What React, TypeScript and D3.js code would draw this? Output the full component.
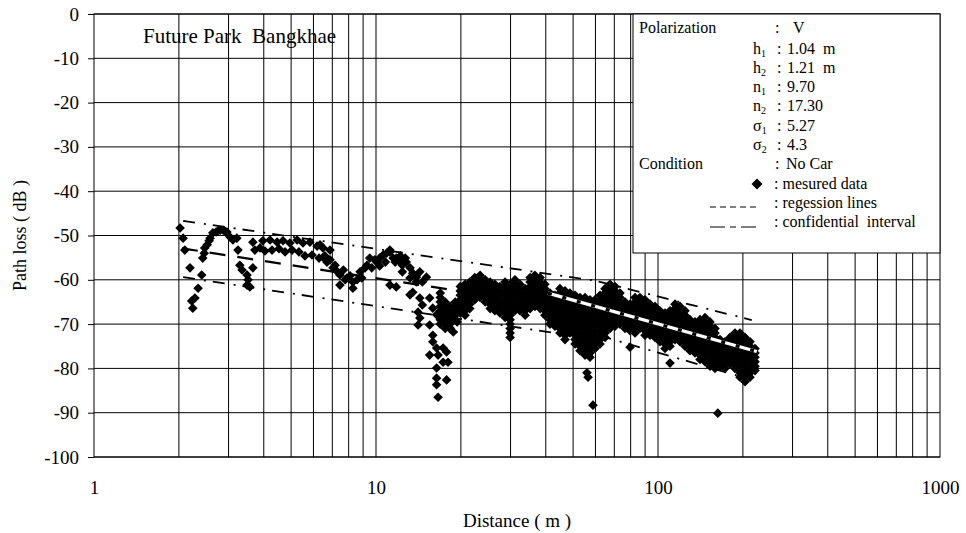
import React, { Component } from "react";
import * as d3 from "d3";

// axis ticks
const yTicks = [0, -10, -20, -30, -40, -50, -60, -70, -80, -90, -100];
const xTickLabels = [1, 10, 100, 1000];

// sparse measured readings [distance m, path loss dB]
const sparsePoints: [number, number][] = [
  [2.02, -48.3], [2.07, -50.6], [2.1, -53.3], [2.19, -57.3], [2.41, -58.9], [2.34, -61.9], [2.28, -64.1],
  [2.22, -64.8], [2.24, -66.4], [2.43, -55.1], [2.46, -54.0], [2.47, -52.8], [2.52, -52.1], [2.56, -51.2],
  [2.58, -50.6], [2.64, -49.4], [2.71, -49.2], [2.75, -49.0], [2.8, -48.8], [2.87, -48.8], [2.91, -49.0],
  [2.96, -49.2], [3.03, -50.3], [3.11, -51.0], [3.21, -50.6], [3.24, -53.3], [3.29, -56.7], [3.35, -57.8],
  [3.49, -58.9], [3.66, -57.3], [3.52, -60.0], [3.49, -61.2], [3.57, -61.6],
  [3.66, -51.5], [3.72, -53.3], [3.88, -52.8], [3.97, -51.2], [4.04, -53.5], [4.21, -51.0], [4.28, -53.3],
  [4.46, -51.5], [4.53, -53.0], [4.68, -51.2], [4.76, -53.7], [4.95, -51.7], [5.04, -53.3], [5.25, -51.0],
  [5.33, -53.7], [5.51, -51.7], [5.6, -54.6], [5.83, -51.5], [5.93, -54.4], [6.18, -52.4], [6.28, -55.1],
  [6.49, -52.8], [6.59, -54.6], [6.87, -53.3], [6.87, -55.5],
  [6.33, -52.1], [6.49, -54.9], [6.7, -56.0], [7.04, -57.3], [7.45, -58.9], [7.45, -61.2], [7.88, -59.6],
  [8.28, -61.9], [8.28, -60.5], [8.78, -58.2], [9.29, -56.7], [9.5, -55.1], [10.07, -56.0], [10.6, -54.4],
  [11.2, -53.7], [10.9, -54.0], [11.2, -53.3], [11.5, -55.1], [11.8, -55.1], [12.2, -56.0], [12.4, -56.7],
  [12.8, -56.0], [13.2, -57.3], [13.5, -58.5], [13.9, -59.4], [14.3, -58.2], [14.6, -60.5], [15.1, -59.4],
  [11.2, -61.2], [11.8, -61.6], [12.4, -58.2], [13.2, -59.6], [13.5, -62.8], [13.2, -63.4], [13.9, -60.5],
  [14.3, -64.1], [14.6, -65.7], [14.1, -67.3], [14.1, -70.2], [14.3, -68.6], [15.5, -64.1], [15.9, -66.4],
  [16.4, -67.9], [15.5, -70.2], [15.9, -72.5], [15.9, -74.0], [16.4, -75.4], [15.5, -77.0], [16.6, -77.0],
  [17.3, -75.4], [17.8, -76.3], [18.0, -78.6], [16.4, -79.9], [17.3, -78.6], [16.4, -82.2], [17.8, -82.6],
  [16.4, -83.7], [16.6, -86.5], [17.3, -69.5], [18.3, -70.9], [18.8, -71.8], [19.4, -69.5],
  [7.16, -56.7], [7.3, -58.2], [7.66, -57.8], [7.78, -60.0], [8.09, -59.1], [8.57, -60.0], [8.9, -59.6],
  [9.15, -57.3], [9.66, -57.3], [9.9, -55.5], [10.3, -55.1], [10.3, -56.9], [10.8, -56.0], [11.7, -56.0],
  [12.2, -54.6], [12.7, -55.1],
  [56, -81.0], [56.5, -82.0], [58.8, -88.3], [79.6, -75.2], [110.3, -78.8], [163, -90.1],
];

// dense readings: distance columns and the losses recorded at each
const blobDist = [
  16.9, 17.6, 18.3, 19.1, 19.9, 20.7, 21.5, 22.4, 23.4, 24.4, 25.4, 26.4, 27.5, 28.7, 29.9, 31.1,
  32.4, 33.8, 35.2, 36.6, 38.2, 39.7, 41.4, 43.1, 44.9, 46.8, 48.7, 50.8, 52.9, 55.1, 57.4, 59.8,
  62.3, 64.9, 67.6, 70.4, 73.3, 76.4, 79.6, 82.9, 86.3, 89.9, 93.7, 97.6, 101.6, 105.9, 110.3, 114.9,
  119.7, 124.7, 129.8, 135.3, 140.9, 146.8, 152.9, 159.3, 165.9, 172.8, 180, 187.5, 195.3, 203.5, 212, 220.8,
];
const blobLoss = [
  [-63, -64, -65, -66, -67, -68, -69, -70],
  [-65, -66, -67, -68, -69, -70, -71],
  [-66, -67, -68, -69, -70, -71],
  [-65, -66, -67, -68, -69],
  [-61.5, -62.5, -63.5, -64.5, -65.5, -66.5, -67.5],
  [-61, -62, -63, -64, -65, -66, -67, -68],
  [-60.5, -61.5, -62.5, -63.5, -64.5, -65.5, -66.5],
  [-59.5, -60.5, -61.5, -62.5, -63.5, -64.5],
  [-59, -60, -61, -62, -63, -64],
  [-60, -61, -62, -63, -64, -65],
  [-60.5, -61.5, -62.5, -63.5, -64.5, -65.5, -66.5],
  [-61, -62, -63, -64, -65, -66, -67],
  [-61.5, -62.5, -63.5, -64.5, -65.5, -66.5, -67.5],
  [-60.5, -61.5, -62.5, -63.5, -64.5, -65.5, -66.5, -67.5, -68.5],
  [-61, -62, -63, -64, -65, -66, -67, -68, -69, -70, -71, -72, -73],
  [-60, -61, -62, -63, -64, -65, -66, -67],
  [-61, -62, -63, -64, -65, -66, -67],
  [-62, -63, -64, -65, -66, -67, -68],
  [-59.5, -60.5, -61.5, -62.5, -63.5, -64.5, -65.5, -66.5],
  [-59, -60, -61, -62, -63, -64, -65, -66],
  [-59.5, -60.5, -61.5, -62.5, -63.5, -64.5, -65.5, -66.5],
  [-61, -62, -63, -64, -65, -66, -67, -68],
  [-63, -64, -65, -66, -67, -68, -69, -70],
  [-63.5, -64.5, -65.5, -66.5, -67.5, -68.5, -69.5, -70.5],
  [-62, -63, -64, -65, -66, -67, -68, -69, -70, -71, -72],
  [-62.5, -63.5, -64.5, -65.5, -66.5, -67.5, -68.5, -69.5, -70.5, -71.5, -72.5, -73.5],
  [-63, -64, -65, -66, -67, -68, -69, -70, -71, -72],
  [-63.5, -64.5, -65.5, -66.5, -67.5, -68.5, -69.5, -70.5, -71.5, -72.5, -73.5, -74.5],
  [-64, -65, -66, -67, -68, -69, -70, -71, -72, -73, -74, -75, -76],
  [-64, -65, -66, -67, -68, -69, -70, -71, -72, -73, -74, -75, -76, -77],
  [-64.5, -65.5, -66.5, -67.5, -68.5, -69.5, -70.5, -71.5, -72.5, -73.5, -74.5, -75.5, -76.5, -77.5],
  [-64.5, -65.5, -66.5, -67.5, -68.5, -69.5, -70.5, -71.5, -72.5, -73.5, -74.5, -75.5],
  [-63.5, -64.5, -65.5, -66.5, -67.5, -68.5, -69.5, -70.5, -71.5, -72.5, -73.5, -74.5],
  [-62, -63, -64, -65, -66, -67, -68, -69, -70, -71, -72, -73],
  [-61, -62, -63, -64, -65, -66, -67, -68, -69, -70, -71],
  [-61.5, -62.5, -63.5, -64.5, -65.5, -66.5, -67.5, -68.5, -69.5, -70.5],
  [-63, -64, -65, -66, -67, -68, -69, -70],
  [-65, -66, -67, -68, -69, -70, -71],
  [-65.5, -66.5, -67.5, -68.5, -69.5, -70.5, -71.5],
  [-64, -65, -66, -67, -68, -69, -70, -71, -72],
  [-64, -65, -66, -67, -68, -69, -70, -71],
  [-64.5, -65.5, -66.5, -67.5, -68.5, -69.5, -70.5, -71.5, -72.5],
  [-65.5, -66.5, -67.5, -68.5, -69.5, -70.5, -71.5, -72.5],
  [-66, -67, -68, -69, -70, -71, -72, -73],
  [-67, -68, -69, -70, -71, -72, -73, -74],
  [-67.5, -68.5, -69.5, -70.5, -71.5, -72.5, -73.5, -74.5, -75.5],
  [-67, -68, -69, -70, -71, -72, -73, -74, -75],
  [-65.5, -66.5, -67.5, -68.5, -69.5, -70.5, -71.5, -72.5, -73.5],
  [-66, -67, -68, -69, -70, -71, -72, -73, -74],
  [-67, -68, -69, -70, -71, -72, -73, -74, -75],
  [-69, -70, -71, -72, -73, -74, -75, -76],
  [-69.5, -70.5, -71.5, -72.5, -73.5, -74.5, -75.5, -76.5],
  [-69, -70, -71, -72, -73, -74, -75, -76, -77, -78],
  [-68.5, -69.5, -70.5, -71.5, -72.5, -73.5, -74.5, -75.5, -76.5, -77.5, -78.5],
  [-69.5, -70.5, -71.5, -72.5, -73.5, -74.5, -75.5, -76.5, -77.5, -78.5, -79.5],
  [-71, -72, -73, -74, -75, -76, -77, -78, -79, -80],
  [-73.5, -74.5, -75.5, -76.5, -77.5, -78.5, -79.5],
  [-74, -75, -76, -77, -78, -79, -80],
  [-73, -74, -75, -76, -77, -78, -79],
  [-72, -73, -74, -75, -76, -77, -78, -79, -80],
  [-72, -73, -74, -75, -76, -77, -78, -79, -80, -81, -82],
  [-73, -74, -75, -76, -77, -78, -79, -80, -81, -82, -83],
  [-74, -75, -76, -77, -78, -79, -80, -81, -82],
  [-75.5, -76.5, -77.5, -78.5, -79.5, -80.5],
];

// fitted lines [distance, dB]
const regression1: [number, number][] = [[2.05, -52.9], [21, -62.8]];
const regression2: [number, number][] = [[40.7, -63.0], [224, -76.2]];
const upperBound: [number, number][] = [[2.07, -46.7], [60, -60.2], [215, -69.1]];
const lowerBound1: [number, number][] = [[2.07, -59.4], [45, -72.2]];
const lowerBound2: [number, number][] = [[62, -72.6], [205, -82.2]];

// legend parameters
const legendParams = [
  ["h", "1", "1.04  m"],
  ["h", "2", "1.21  m"],
  ["n", "1", "9.70"],
  ["n", "2", "17.30"],
  ["σ", "1", "5.27"],
  ["σ", "2", "4.3"],
];

const FONT = "Liberation Serif, Times New Roman, serif";

class App extends Component {
  svgRef = React.createRef<SVGSVGElement>();

  componentDidMount() {
    this.renderChart();
  }

  componentDidUpdate() {
    this.renderChart();
  }

  renderChart() {
    const margin = { top: 14, right: 26, bottom: 76, left: 94 },
      W = 966,
      H = 533,
      w = W - margin.left - margin.right,
      h = H - margin.top - margin.bottom;

    const svg = d3.select(this.svgRef.current);
    svg.selectAll("*").remove();
    svg.attr("width", W).attr("height", H);

    svg.append("rect").attr("width", W).attr("height", H).attr("fill", "#fff");

    const root = svg.append("g").attr("font-family", FONT).attr("fill", "#000");
    const g = root.append("g").attr("transform", `translate(${margin.left},${margin.top})`);

    const x = d3.scaleLog().domain([1, 1000]).range([0, w]);
    const y = d3.scaleLinear().domain([-100, 0]).range([h, 0]);

    // grid
    g.selectAll(".vgrid")
      .data(x.ticks().filter((t) => t > 1 && t < 1000))
      .join("line")
      .attr("x1", (d) => x(d))
      .attr("x2", (d) => x(d))
      .attr("y1", 0)
      .attr("y2", h)
      .attr("stroke", "#000")
      .attr("stroke-width", 1);

    g.selectAll(".hgrid")
      .data(yTicks)
      .join("line")
      .attr("x1", 0)
      .attr("x2", w)
      .attr("y1", (d) => y(d))
      .attr("y2", (d) => y(d))
      .attr("stroke", "#000")
      .attr("stroke-width", 1);

    g.append("rect")
      .attr("width", w)
      .attr("height", h)
      .attr("fill", "none")
      .attr("stroke", "#000");

    // y axis
    const yAxis = g
      .append("g")
      .call(d3.axisLeft(y).tickValues(yTicks).tickSize(6).tickPadding(9).tickFormat((d) => String(d)));
    yAxis.select(".domain").remove();
    yAxis.selectAll("line").attr("stroke", "#000");
    yAxis.selectAll("text").attr("font-family", FONT).attr("font-size", 19).attr("fill", "#000");

    // x axis
    const xAxis = g
      .append("g")
      .attr("transform", `translate(0,${h})`)
      .call(d3.axisBottom(x).tickValues(xTickLabels).tickSize(0).tickPadding(24).tickFormat((d) => String(d)));
    xAxis.select(".domain").remove();
    xAxis.selectAll("text").attr("font-family", FONT).attr("font-size", 19).attr("fill", "#000");

    // measured data
    const allPoints: [number, number][] = sparsePoints.concat(
      blobDist.flatMap((d, i) => blobLoss[i].map((v) => [d, v] as [number, number]))
    );
    const r = 4.8;
    const diamond = d3.symbol(d3.symbolSquare, 2 * r * r);
    g.selectAll(".pt")
      .data(allPoints)
      .join("path")
      .attr("d", diamond)
      .attr("transform", (d) => `translate(${x(d[0])},${y(d[1])}) rotate(45)`)
      .attr("fill", "#000");

    const line = d3
      .line<[number, number]>()
      .x((d) => x(d[0]))
      .y((d) => y(d[1]));

    // confidence interval lines
    [upperBound, lowerBound1, lowerBound2].forEach((pts) => {
      g.append("path")
        .attr("d", line(pts))
        .attr("fill", "none")
        .attr("stroke", "#000")
        .attr("stroke-width", 1.8)
        .attr("stroke-dasharray", "12,9,2,7");
    });

    // regression lines
    g.append("path")
      .attr("d", line(regression1))
      .attr("fill", "none")
      .attr("stroke", "#000")
      .attr("stroke-width", 2.2)
      .attr("stroke-dasharray", "16,12");

    g.append("path")
      .attr("d", line(regression2))
      .attr("fill", "none")
      .attr("stroke", "#000")
      .attr("stroke-width", 6.5);
    g.append("path")
      .attr("d", line(regression2))
      .attr("fill", "none")
      .attr("stroke", "#fff")
      .attr("stroke-width", 3.2);
    g.append("path")
      .attr("d", line(regression2))
      .attr("fill", "none")
      .attr("stroke", "#000")
      .attr("stroke-width", 3.2)
      .attr("stroke-dasharray", "4,11");

    // title in plot
    root.append("text")
      .attr("x", 143)
      .attr("y", 43)
      .attr("font-size", 21)
      .attr("xml:space", "preserve")
      .text("Future Park  Bangkhae");

    // axis titles
    root.append("text")
      .attr("x", margin.left + w / 2)
      .attr("y", 527)
      .attr("text-anchor", "middle")
      .attr("font-size", 19)
      .attr("xml:space", "preserve")
      .text("Distance ( m )");

    root.append("text")
      .attr("transform", `translate(26,${margin.top + h / 2}) rotate(-90)`)
      .attr("text-anchor", "middle")
      .attr("font-size", 18)
      .attr("xml:space", "preserve")
      .text("Path loss ( dB )");

    // legend box
    const lg = root.append("g").attr("font-size", 16);
    lg.append("rect")
      .attr("x", 633)
      .attr("y", 14)
      .attr("width", 307)
      .attr("height", 239)
      .attr("fill", "#fff")
      .attr("stroke", "#000");

    lg.append("text").attr("x", 639).attr("y", 33).text("Polarization");
    lg.append("text").attr("x", 775).attr("y", 33).text(":");
    lg.append("text").attr("x", 793).attr("y", 33).text("V");

    const rowY = [54, 73, 92, 111, 131, 150];
    legendParams.forEach((p, i) => {
      const t = lg.append("text").attr("x", 753).attr("y", rowY[i]);
      t.append("tspan").text(p[0]);
      t.append("tspan").attr("font-size", 10).attr("dy", 3).text(p[1]);
      lg.append("text").attr("x", 777).attr("y", rowY[i]).text(":");
      lg.append("text").attr("x", 787).attr("y", rowY[i]).attr("xml:space", "preserve").text(p[2]);
    });

    lg.append("text").attr("x", 639).attr("y", 169).text("Condition");
    lg.append("text").attr("x", 775).attr("y", 169).text(":");
    lg.append("text").attr("x", 786).attr("y", 169).text("No Car");

    lg.append("path")
      .attr("d", d3.symbol(d3.symbolSquare, 2 * 5.5 * 5.5))
      .attr("transform", "translate(757,184) rotate(45)")
      .attr("fill", "#000");
    lg.append("text").attr("x", 774).attr("y", 189).text(": mesured data");

    lg.append("line")
      .attr("x1", 710)
      .attr("x2", 760)
      .attr("y1", 207)
      .attr("y2", 207)
      .attr("stroke", "#000")
      .attr("stroke-dasharray", "6,4");
    lg.append("text").attr("x", 774).attr("y", 208).text(": regession lines");

    lg.append("line")
      .attr("x1", 710)
      .attr("x2", 758)
      .attr("y1", 227)
      .attr("y2", 227)
      .attr("stroke", "#000")
      .attr("stroke-dasharray", "15,5,6,5");
    lg.append("text")
      .attr("x", 774)
      .attr("y", 227)
      .attr("xml:space", "preserve")
      .text(": confidential  interval");
  }

  render() {
    return <svg ref={this.svgRef} style={{ position: "absolute", left: 0, top: 0 }} />;
  }
}

export default App;
